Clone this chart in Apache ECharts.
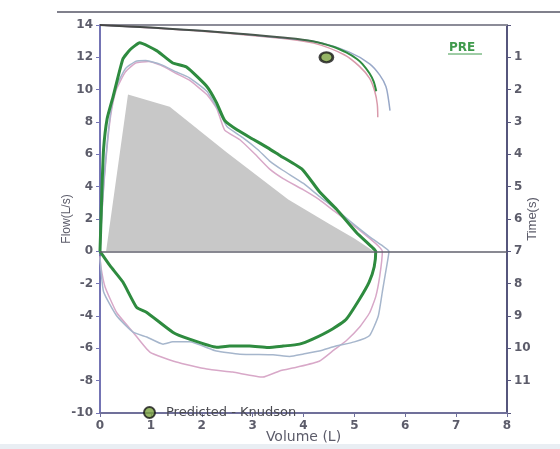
<!DOCTYPE html>
<html><head><meta charset="utf-8">
<script src="https://cdn.jsdelivr.net/npm/echarts@6/dist/echarts.min.js"></script>
<style>html,body{margin:0;padding:0;background:#fff}#c{width:560px;height:449px}</style>
</head><body><div id="c"></div>
<script>
// Predicted (grey area) flow-volume
const predV = [0.12, 0.55, 1.37, 2.5, 3.7, 4.5, 5.0, 5.38];
const predF = [0, 9.7, 8.95, 6.1, 3.2, 1.7, 0.8, 0];

// Green (thick) loop
const greenExpV = [0, 0.02, 0.04, 0.07, 0.14, 0.26, 0.45, 0.6, 0.78, 1.12, 1.43, 1.7, 2.1, 2.29, 2.45, 2.7, 3.0, 3.3, 3.55, 3.98, 4.31, 4.65, 5.04, 5.35, 5.42];
const greenExpF = [0, 2, 4, 6.3, 8.2, 9.6, 11.9, 12.5, 12.9, 12.4, 11.65, 11.4, 10.2, 9.2, 8.1, 7.5, 6.95, 6.4, 5.9, 5.06, 3.7, 2.6, 1.17, 0.25, 0];
const greenInsV = [5.42, 5.39, 5.29, 5.1, 4.84, 4.57, 4.18, 3.92, 3.6, 3.3, 2.94, 2.55, 2.29, 1.76, 1.43, 0.92, 0.72, 0.45, 0.2, 0];
const greenInsF = [0, -0.95, -1.9, -2.96, -4.2, -4.8, -5.43, -5.74, -5.86, -5.95, -5.86, -5.86, -5.93, -5.43, -5.0, -3.78, -3.47, -1.9, -0.9, 0];

// Light blue-grey loop
const blueExpV = [0, 0.03, 0.08, 0.15, 0.22, 0.32, 0.5, 0.7, 0.9, 1.2, 1.5, 1.75, 2.1, 2.35, 2.5, 2.8, 3.1, 3.33, 3.6, 4.0, 4.31, 4.6, 4.9, 5.3, 5.55, 5.68];
const blueExpF = [0, 2, 4.5, 7, 8.8, 10.2, 11.3, 11.75, 11.8, 11.55, 11.1, 10.75, 9.9, 8.6, 7.7, 7.05, 6.3, 5.6, 5.0, 4.2, 3.4, 2.7, 1.9, 0.9, 0.35, 0];
const blueInsV = [5.68, 5.62, 5.55, 5.47, 5.3, 5.0, 4.64, 4.31, 4.0, 3.73, 3.4, 2.75, 2.29, 1.76, 1.43, 1.24, 0.92, 0.65, 0.33, 0.07, 0];
const blueInsF = [0, -1.2, -2.5, -4.0, -5.2, -5.6, -5.86, -6.17, -6.35, -6.5, -6.4, -6.36, -6.17, -5.6, -5.6, -5.74, -5.3, -5.0, -4.0, -2.5, -0.4];

// Light pink loop
const pinkExpV = [0, 0.03, 0.08, 0.15, 0.22, 0.32, 0.5, 0.7, 0.95, 1.2, 1.5, 1.75, 2.1, 2.3, 2.45, 2.75, 3.05, 3.33, 3.6, 4.0, 4.31, 4.6, 4.9, 5.3, 5.48, 5.55];
const pinkExpF = [0, 2, 4.3, 6.8, 8.6, 10.0, 11.1, 11.65, 11.75, 11.5, 11.0, 10.6, 9.7, 8.8, 7.5, 6.9, 6.0, 5.1, 4.5, 3.8, 3.2, 2.5, 1.8, 0.8, 0.3, 0];
const pinkInsV = [5.55, 5.5, 5.42, 5.3, 5.1, 4.85, 4.6, 4.31, 3.86, 3.53, 3.2, 2.61, 2.1, 1.5, 0.98, 0.65, 0.33, 0.1, 0.02, 0];
const pinkInsF = [0, -1.5, -2.8, -3.8, -4.7, -5.5, -6.1, -6.8, -7.17, -7.4, -7.78, -7.47, -7.28, -6.85, -6.23, -5.0, -3.8, -2.2, -1.0, -0.3];

// Volume-time curves (time on right axis)
const greenTV = [0, 1, 2, 3, 3.53, 4.18, 4.6, 4.84, 5.05, 5.16, 5.3, 5.38, 5.43];
const greenTT = [0, 0.08, 0.18, 0.3, 0.38, 0.5, 0.68, 0.85, 1.05, 1.21, 1.5, 1.75, 2.05];
const pinkTV = [0, 2, 3.5, 4.2, 4.8, 5.1, 5.3, 5.4, 5.45, 5.46];
const pinkTT = [0, 0.19, 0.4, 0.56, 0.92, 1.28, 1.65, 2.05, 2.45, 2.85];
const blueTV = [0, 2, 3.5, 4.3, 4.9, 5.3, 5.5, 5.62, 5.67, 5.7];
const blueTT = [0, 0.18, 0.39, 0.54, 0.84, 1.2, 1.55, 1.9, 2.3, 2.65];

// Predicted point
const predictedPoint = [4.45, 12];
const legendName = 'Predicted - Knudson';

const zip = (a, b) => a.map((v, i) => [v, b[i]]);

const labelStyle = {fontFamily: 'DejaVu Sans', fontWeight: 'bold', fontSize: 12, color: '#5c5c6a'};
const GREEN = '#2e8b3f', BLUE = '#a6b6cc', PINK = '#d8a8c8';

const chart = echarts.init(document.getElementById('c'), null, {renderer: 'canvas'});
chart.setOption({
  animation: false,
  backgroundColor: '#ffffff',
  grid: {left: 100, right: 53, top: 25, bottom: 36, containLabel: false},
  xAxis: [{
    type: 'value', min: 0, max: 8, interval: 1, position: 'bottom',
    axisLine: {onZero: false, lineStyle: {color: '#70709a', width: 2}},
    axisTick: {show: true, length: 4, lineStyle: {color: '#70709a'}},
    axisLabel: Object.assign({margin: 7}, labelStyle),
    splitLine: {show: false},
    name: 'Volume (L)', nameLocation: 'middle', nameGap: 17, nameMoveOverlap: false,
    nameTextStyle: {fontFamily: 'DejaVu Sans', fontSize: 14, color: '#5c5c6a'}
  }, {
    type: 'value', min: 0, max: 8, position: 'top',
    axisLine: {show: true, onZero: false, lineStyle: {color: '#8c8c98', width: 2}},
    axisTick: {show: false}, axisLabel: {show: false}, splitLine: {show: false}
  }],
  yAxis: [{
    type: 'value', min: -10, max: 14, interval: 2, position: 'left',
    axisLine: {show: true, onZero: false, lineStyle: {color: '#7474b4', width: 2}},
    axisTick: {show: true, length: 4, lineStyle: {color: '#7474b4'}},
    axisLabel: Object.assign({margin: 7}, labelStyle),
    splitLine: {show: false},
    name: 'Flow(L/s)', nameLocation: 'middle', nameGap: 27, nameRotate: 90, nameMoveOverlap: false,
    nameTextStyle: {fontFamily: 'Liberation Sans', fontSize: 12, color: '#5c5c6a'}
  }, {
    type: 'value', min: 0, max: 12, interval: 1, inverse: true, position: 'right',
    axisLine: {show: true, onZero: false, lineStyle: {color: '#56567c', width: 2}},
    axisTick: {show: true, length: 4, lineStyle: {color: '#56567c'}},
    axisLabel: Object.assign({margin: 7, formatter: v => (v === 0 || v === 12) ? '' : String(v)}, labelStyle),
    splitLine: {show: false},
    name: 'Time(s)', nameLocation: 'middle', nameGap: 19, nameRotate: 90, nameMoveOverlap: false,
    nameTextStyle: {fontFamily: 'Liberation Sans', fontSize: 13, color: '#5c5c6a'}
  }],
  legend: {
    data: [legendName], left: 138, top: 401, itemWidth: 15, itemHeight: 11, icon: 'circle',
    textStyle: {fontFamily: 'DejaVu Sans', fontSize: 13, color: '#4a4a50', padding: [0, 0, 0, 4]}
  },
  graphic: [
    {type: 'line', shape: {x1: 57, y1: 12, x2: 560, y2: 12}, style: {stroke: '#80808c', lineWidth: 2}, silent: true},
    {type: 'rect', shape: {x: 0, y: 444, width: 560, height: 5}, style: {fill: '#e9eef3'}, silent: true},
    {type: 'text', left: 449, top: 42, style: {text: 'PRE', fill: '#3f9a4c', font: 'bold 12px "DejaVu Sans"'}, silent: true},
    {type: 'line', shape: {x1: 448, y1: 54, x2: 482, y2: 54}, style: {stroke: '#3f9a4c', lineWidth: 1}, silent: true}
  ],
  series: [
    {
      type: 'line', name: 'predArea', data: zip(predV, predF), showSymbol: false, silent: true,
      lineStyle: {width: 0}, areaStyle: {color: '#c8c8c8', opacity: 1},
      markLine: {silent: true, symbol: 'none', label: {show: false}, animation: false,
        lineStyle: {color: '#62626e', width: 1.5, type: 'solid'}, data: [{yAxis: 0}]}
    },
    {type: 'line', name: 'pink', data: zip(pinkExpV, pinkExpF).concat(zip(pinkInsV, pinkInsF)), showSymbol: false, silent: true,
      smooth: 0.15, lineStyle: {color: PINK, width: 1.5}},
    {type: 'line', name: 'blue', data: zip(blueExpV, blueExpF).concat(zip(blueInsV, blueInsF)), showSymbol: false, silent: true,
      smooth: 0.15, lineStyle: {color: BLUE, width: 1.5}},
    {type: 'line', name: 'pinkT', yAxisIndex: 1, data: zip(pinkTV, pinkTT), showSymbol: false, silent: true,
      smooth: 0.3, lineStyle: {color: '#d99aab', width: 1.5}},
    {type: 'line', name: 'blueT', yAxisIndex: 1, data: zip(blueTV, blueTT), showSymbol: false, silent: true,
      smooth: 0.3, lineStyle: {color: '#98a8c8', width: 1.5}},
    {type: 'line', name: 'green', data: zip(greenExpV, greenExpF).concat(zip(greenInsV, greenInsF)), showSymbol: false, silent: true,
      smooth: 0.15, lineStyle: {color: GREEN, width: 3}},
    {type: 'line', name: 'greenT', yAxisIndex: 1, data: zip(greenTV, greenTT), showSymbol: false, silent: true,
      smooth: 0.3, lineStyle: {width: 2, color: {type: 'linear', x: 0, y: 0, x2: 1, y2: 0, colorStops: [
        {offset: 0, color: '#454545'}, {offset: 0.68, color: '#4a5a4e'}, {offset: 0.85, color: GREEN}, {offset: 1, color: GREEN}]}}},
    {type: 'scatter', name: legendName, data: [predictedPoint], symbol: 'circle', symbolSize: [13, 10], silent: true,
      itemStyle: {color: '#7ba23f', borderColor: '#161616', borderWidth: 2.5}, z: 5}
  ]
});
</script></body></html>
